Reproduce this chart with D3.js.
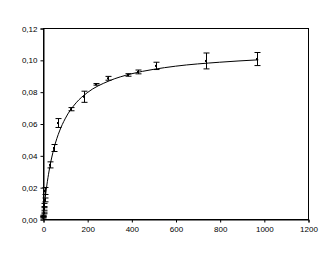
<!DOCTYPE html>
<html>
<head>
<meta charset="utf-8">
<script src="https://cdn.jsdelivr.net/npm/d3@7"></script>
<style>
  body { margin: 0; background: #fff; }
  svg { display: block; }
  .tick text { font-family: "Liberation Sans", Arial, sans-serif; font-size: 8px; fill: #000; }
</style>
</head>
<body>
<div id="chart"></div>
<script>
// measured points: substrate (x), rate (y), error bar half-height
const concX = [0.5, 1, 2, 3, 4, 5, 7, 10.6, 32, 51, 67, 128, 186, 239, 293, 386, 432, 510, 738, 969];
const rateY = [0.0010, 0.0015, 0.0020, 0.0038, 0.0063, 0.0088, 0.0120, 0.0176, 0.0340, 0.0446, 0.0603, 0.0690, 0.0768, 0.0846, 0.0884, 0.0905, 0.0924, 0.0962, 0.0993, 0.1005];
const rateErr = [0.0004, 0.0004, 0.0004, 0.0005, 0.0008, 0.0010, 0.0012, 0.0022, 0.0019, 0.0022, 0.0028, 0.0010, 0.0035, 0.0005, 0.0012, 0.0008, 0.0012, 0.0023, 0.0050, 0.0041];

// fitted curve
const fitX = [0, 5, 10, 20, 30, 50, 75, 100, 150, 200, 300, 400, 500, 600, 800, 975];
const fitY = [0, 0.0071, 0.0133, 0.0237, 0.0321, 0.0446, 0.0553, 0.0629, 0.0730, 0.0793, 0.0868, 0.0912, 0.0940, 0.0960, 0.0985, 0.1000];

const xTicks = [0, 200, 400, 600, 800, 1000, 1200];
const yTicks = [0, 0.02, 0.04, 0.06, 0.08, 0.10, 0.12];

const width = 323, height = 253;
const margin = {top: 28, right: 15, bottom: 34, left: 43};

const svg = d3.select('#chart').append('svg').attr('width', width).attr('height', height);

const x = d3.scaleLinear().domain([0, 1200]).range([margin.left, width - margin.right]);
const y = d3.scaleLinear().domain([0, 0.12]).range([height - margin.bottom, margin.top]);

const fmt = d => d3.format('.2f')(d).replace('.', ',');

// frame
svg.append('rect')
    .attr('x', x(0) + 0.5).attr('y', y(0.12) + 0.5)
    .attr('width', x(1200) - x(0)).attr('height', y(0) - y(0.12))
    .attr('fill', 'none').attr('stroke', '#000').attr('stroke-width', 1);

const xAxis = svg.append('g').attr('transform', `translate(0.5,${y(0) + 0.5})`)
    .call(d3.axisBottom(x).tickValues(xTicks).tickSize(3).tickPadding(4).tickFormat(d3.format('d')));
const yAxis = svg.append('g').attr('transform', `translate(${x(0) + 0.5},0.5)`)
    .call(d3.axisLeft(y).tickValues(yTicks).tickSize(3).tickPadding(3).tickFormat(fmt));
[xAxis, yAxis].forEach(g => {
    g.select('.domain').attr('stroke', '#000');
    g.selectAll('.tick line').attr('stroke', '#000');
});

// fitted line
const fit = fitX.map((v, i) => [v, fitY[i]]);
svg.append('path').datum(fit)
    .attr('fill', 'none').attr('stroke', '#000').attr('stroke-width', 1)
    .attr('d', d3.line().x(d => x(d[0])).y(d => y(d[1])).curve(d3.curveMonotoneX));

// error bars and points
const pts = concX.map((v, i) => ({x: v, y: rateY[i], e: rateErr[i]}));
const bars = svg.append('g').attr('stroke', '#000').attr('stroke-width', 1);
pts.forEach(p => {
    const cx = Math.round(x(p.x)) + 0.5;
    const y1 = y(p.y + p.e), y2 = y(p.y - p.e);
    bars.append('line').attr('x1', cx).attr('x2', cx).attr('y1', y1).attr('y2', y2);
    bars.append('line').attr('x1', cx - 3).attr('x2', cx + 3).attr('y1', y1).attr('y2', y1);
    bars.append('line').attr('x1', cx - 3).attr('x2', cx + 3).attr('y1', y2).attr('y2', y2);
});
svg.append('g').selectAll('rect').data(pts).enter().append('rect')
    .attr('x', d => Math.round(x(d.x)) - 1).attr('y', d => y(d.y) - 1)
    .attr('width', 2).attr('height', 2).attr('fill', '#000');
</script>
</body>
</html>
